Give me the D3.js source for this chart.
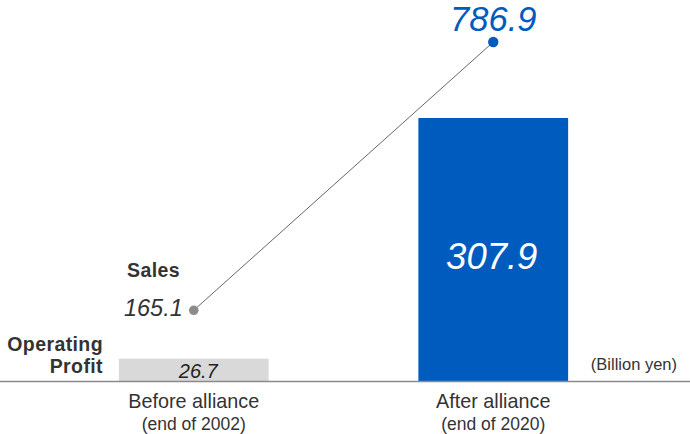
<!DOCTYPE html>
<html>
<head>
<meta charset="utf-8">
<script src="https://cdn.jsdelivr.net/npm/d3@7/dist/d3.min.js"></script>
<style>
html,body{margin:0;padding:0;background:#fff;}
svg{display:block;}
text{font-family:"Liberation Sans",Arial,Helvetica,sans-serif;}
</style>
</head>
<body>
<svg id="chart" width="690" height="434"></svg>
<script>
const categories = ["Before alliance", "After alliance"];
const subLabels = ["(end of 2002)", "(end of 2020)"];
const operatingProfit = [26.7, 307.9];
const sales = [165.1, 786.9];

const W = 690, H = 434, baseY = 381.5;
const svg = d3.select("#chart");

const x = d3.scaleBand().domain(categories).range([44, 643]).paddingInner(0.5).paddingOuter(0.25);
const yProfit = d3.scaleLinear().domain([0, 307.9]).range([baseY, 118]);
const ySales = d3.scaleLinear().domain([0, 786.9]).range([baseY, 42]);
const cx = c => x(c) + x.bandwidth() / 2;

const barColors = ["#d9d9d9", "#005bbf"];
const dotColors = ["#8c8c8c", "#005bbf"];

// bars
svg.selectAll("rect.bar").data(categories).join("rect")
  .attr("class", "bar")
  .attr("x", d => x(d))
  .attr("width", x.bandwidth())
  .attr("y", (d, i) => yProfit(operatingProfit[i]))
  .attr("height", (d, i) => baseY - yProfit(operatingProfit[i]))
  .attr("fill", (d, i) => barColors[i]);

// baseline
svg.append("line").attr("x1", 0).attr("x2", W).attr("y1", baseY).attr("y2", baseY)
  .attr("stroke", "#8a8a8a").attr("stroke-width", 1.5);

// sales line
const line = d3.line().x((d, i) => cx(categories[i])).y(d => ySales(d));
svg.append("path").datum(sales).attr("d", line)
  .attr("fill", "none").attr("stroke", "#666").attr("stroke-width", 1);

svg.selectAll("circle.dot").data(sales).join("circle")
  .attr("class", "dot")
  .attr("cx", (d, i) => cx(categories[i]))
  .attr("cy", d => ySales(d))
  .attr("r", (d, i) => i === 0 ? 4.8 : 5.2)
  .attr("fill", (d, i) => dotColors[i]);

// sales value labels
svg.append("text").attr("x", cx(categories[0]) - 11).attr("y", ySales(sales[0]) + 6)
  .attr("text-anchor", "end").attr("font-style", "italic").attr("font-size", 23.5)
  .attr("fill", "#333").text(sales[0].toFixed(1));
svg.append("text").attr("x", cx(categories[1])).attr("y", ySales(sales[1]) - 11)
  .attr("text-anchor", "middle").attr("font-style", "italic").attr("font-size", 34.5)
  .attr("fill", "#005bbf").text(sales[1].toFixed(1));

// profit value labels
svg.append("text").attr("x", cx(categories[0]) + 4.5).attr("y", baseY - 3.5)
  .attr("text-anchor", "middle").attr("font-style", "italic").attr("font-size", 20)
  .attr("fill", "#222").text(operatingProfit[0].toFixed(1));
svg.append("text").attr("x", cx(categories[1]) - 1.5).attr("y", 269)
  .attr("text-anchor", "middle").attr("font-style", "italic").attr("font-size", 36.5)
  .attr("fill", "#fff").text(operatingProfit[1].toFixed(1));

// series labels
svg.append("text").attr("x", 127).attr("y", 277).attr("font-size", 19.5).attr("font-weight", "bold")
  .attr("letter-spacing", 0.4).attr("fill", "#333").text("Sales");
svg.append("text").attr("x", 103).attr("y", 350.5).attr("text-anchor", "end").attr("font-size", 19.5)
  .attr("letter-spacing", 0.4).attr("font-weight", "bold").attr("fill", "#333").text("Operating");
svg.append("text").attr("x", 103).attr("y", 373).attr("text-anchor", "end").attr("font-size", 19.5)
  .attr("letter-spacing", 0.4).attr("font-weight", "bold").attr("fill", "#333").text("Profit");

// unit
svg.append("text").attr("x", 677).attr("y", 370).attr("text-anchor", "end").attr("font-size", 16.5)
  .attr("fill", "#333").text("(Billion yen)");

// category labels
svg.selectAll("text.cat").data(categories).join("text")
  .attr("class", "cat").attr("x", d => cx(d)).attr("y", 408)
  .attr("text-anchor", "middle").attr("font-size", 19.8).attr("fill", "#333").text(d => d);
svg.selectAll("text.sub").data(subLabels).join("text")
  .attr("class", "sub").attr("x", (d, i) => cx(categories[i])).attr("y", 430)
  .attr("text-anchor", "middle").attr("font-size", 17.5).attr("fill", "#333").text(d => d);
</script>
</body>
</html>
